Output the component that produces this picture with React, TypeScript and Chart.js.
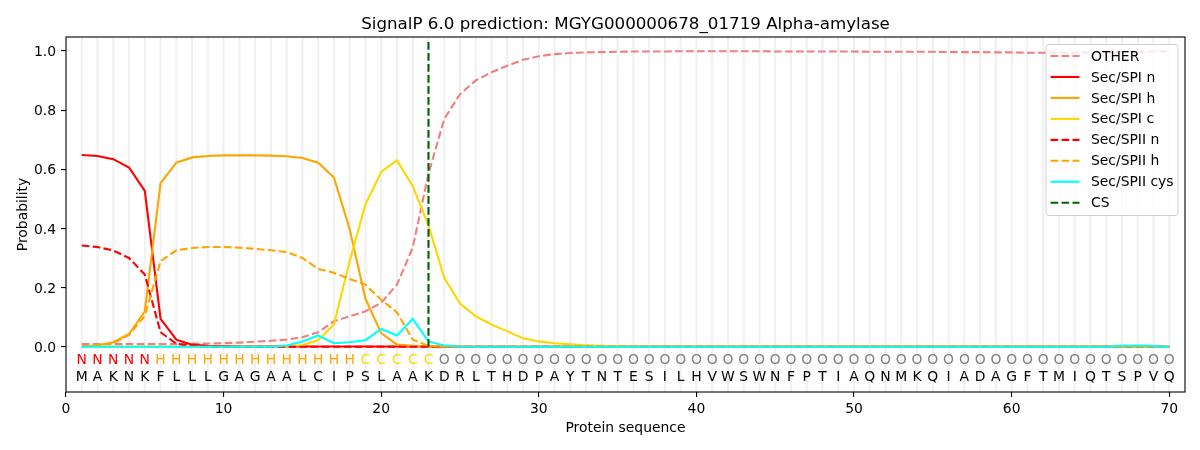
import React, { useEffect, useRef } from "react";
import { Chart, registerables } from "chart.js";

Chart.register(...registerables);

const TITLE = "SignalP 6.0 prediction: MGYG000000678_01719 Alpha-amylase";
const X_TITLE = "Protein sequence";
const Y_TITLE = "Probability";

const SEQUENCE = "MAKNKFLLLGAGAALCIPSLAAKDRLTHDPAYTNTESILHVWSWNFPTIAQNMKQIADAGFTMIQTSPVQ".split("");
const REGIONS = (
  "NNNNN" +
  "HHHHHHHHHHHHH" +
  "CCCCC" +
  "OOOOOOOOOOOOOOOOOOOOOOOOOOOOOOOOOOOOOOOOOOOOOOO"
).split("");

const OTHER = [
  0.009, 0.009, 0.009, 0.009, 0.009, 0.009, 0.009, 0.010, 0.011, 0.012,
  0.014, 0.017, 0.020, 0.024, 0.032, 0.049, 0.086, 0.103, 0.120, 0.148,
  0.210, 0.335, 0.585, 0.770, 0.854, 0.900, 0.928, 0.950, 0.970, 0.982,
  0.989, 0.993, 0.995, 0.996, 0.997, 0.998, 0.998, 0.998, 0.999, 0.999,
  0.999, 0.999, 0.999, 0.999, 0.998, 0.998, 0.998, 0.998, 0.998, 0.998,
  0.997, 0.997, 0.997, 0.997, 0.997, 0.996, 0.996, 0.996, 0.995, 0.995,
  0.994, 0.994, 0.994, 0.994, 0.995, 0.995, 0.996, 0.997, 0.998, 0.999,
];
const SPI_N = [
  0.648, 0.645, 0.634, 0.606, 0.527, 0.094, 0.024, 0.007, 0.003, 0.002,
  0.001, 0.001, 0.001, 0.001, 0.001, 0.001, 0.001, 0.001, 0.001, 0.001,
  0.001, 0.001, 0.001, 0, 0, 0, 0, 0, 0, 0,
  0, 0, 0, 0, 0, 0, 0, 0, 0, 0,
  0, 0, 0, 0, 0, 0, 0, 0, 0, 0,
  0, 0, 0, 0, 0, 0, 0, 0, 0, 0,
  0, 0, 0, 0, 0, 0, 0, 0, 0, 0,
];
const SPI_H = [
  0.001, 0.005, 0.015, 0.043, 0.120, 0.553, 0.622, 0.640, 0.645, 0.647,
  0.647, 0.647, 0.646, 0.644, 0.638, 0.622, 0.572, 0.397, 0.162, 0.046,
  0.007, 0.003, 0.001, 0, 0, 0, 0, 0, 0, 0,
  0, 0, 0, 0, 0, 0, 0, 0, 0, 0,
  0, 0, 0, 0, 0, 0, 0, 0, 0, 0,
  0, 0, 0, 0, 0, 0, 0, 0, 0, 0,
  0, 0, 0, 0, 0, 0, 0, 0, 0, 0,
];
const SPI_C = [
  0, 0, 0, 0, 0, 0, 0, 0, 0, 0,
  0, 0, 0, 0.001, 0.006, 0.022, 0.075, 0.290, 0.481, 0.591,
  0.630, 0.543, 0.410, 0.233, 0.146, 0.103, 0.075, 0.052, 0.029, 0.018,
  0.012, 0.008, 0.005, 0.003, 0.002, 0.001, 0.001, 0, 0, 0,
  0, 0, 0, 0, 0, 0, 0, 0, 0, 0,
  0, 0, 0, 0, 0, 0, 0, 0, 0, 0,
  0, 0, 0, 0, 0, 0, 0, 0, 0, 0,
];
const SPII_N = [
  0.342, 0.337, 0.325, 0.300, 0.244, 0.049, 0.010, 0.003, 0.001, 0,
  0, 0, 0, 0, 0, 0, 0, 0, 0, 0,
  0, 0, 0, 0, 0, 0, 0, 0, 0, 0,
  0, 0, 0, 0, 0, 0, 0, 0, 0, 0,
  0, 0, 0, 0, 0, 0, 0, 0, 0, 0,
  0, 0, 0, 0, 0, 0, 0, 0, 0, 0,
  0, 0, 0, 0, 0, 0, 0, 0, 0, 0,
];
const SPII_H = [
  0.001, 0.005, 0.012, 0.040, 0.105, 0.289, 0.326, 0.334, 0.337, 0.337,
  0.335, 0.331, 0.326, 0.320, 0.300, 0.263, 0.250, 0.229, 0.210, 0.159,
  0.116, 0.024, 0.003, 0, 0, 0, 0, 0, 0, 0,
  0, 0, 0, 0, 0, 0, 0, 0, 0, 0,
  0, 0, 0, 0, 0, 0, 0, 0, 0, 0,
  0, 0, 0, 0, 0, 0, 0, 0, 0, 0,
  0, 0, 0, 0, 0, 0, 0, 0, 0, 0,
];
const SPII_CYS = [
  0, 0, 0, 0, 0, 0, 0, 0, 0, 0,
  0, 0, 0, 0.004, 0.018, 0.038, 0.012, 0.015, 0.022, 0.060,
  0.038, 0.094, 0.018, 0.004, 0.001, 0, 0, 0, 0, 0,
  0, 0, 0, 0, 0, 0, 0, 0, 0, 0,
  0, 0, 0, 0, 0, 0, 0, 0, 0, 0,
  0, 0, 0, 0, 0, 0, 0, 0, 0, 0,
  0, 0, 0, 0, 0, 0, 0.003, 0.004, 0.002, 0,
];
const CS_POSITION = 23;
const CS_RANGE = [0, 1.035];

const X_TICK_VALUES = [0, 10, 20, 30, 40, 50, 60, 70];
const Y_TICK_VALUES = [0, 0.2, 0.4, 0.6, 0.8, 1.0];

const REGION_COLORS: Record<string, string> = {
  N: "#ff0000",
  H: "#ffa500",
  C: "#ffd700",
  O: "#808080",
};

const FONT = "'DejaVu Sans', sans-serif";
const DASH = [7.7, 3.3];

function toPoints(vals: number[]) {
  return vals.map((v, i) => ({ x: i + 1, y: v }));
}

const SERIES = [
  { label: "OTHER", data: OTHER, color: "#f08080", dash: DASH },
  { label: "Sec/SPI n", data: SPI_N, color: "#ff0000", dash: [] as number[] },
  { label: "Sec/SPI h", data: SPI_H, color: "#ffa500", dash: [] as number[] },
  { label: "Sec/SPI c", data: SPI_C, color: "#ffd700", dash: [] as number[] },
  { label: "Sec/SPII n", data: SPII_N, color: "#ff0000", dash: DASH },
  { label: "Sec/SPII h", data: SPII_H, color: "#ffa500", dash: DASH },
  { label: "Sec/SPII cys", data: SPII_CYS, color: "#00ffff", dash: [] as number[] },
];

const overlayPlugin = {
  id: "overlay",
  beforeDatasetsDraw(chart: any) {
    const { ctx, chartArea: a, scales } = chart;
    const x = scales.x;
    ctx.save();
    ctx.strokeStyle = "#f0f0f0";
    ctx.lineWidth = 2;
    for (let i = 1; i <= SEQUENCE.length; i++) {
      const px = x.getPixelForValue(i);
      ctx.beginPath();
      ctx.moveTo(px, a.top);
      ctx.lineTo(px, a.bottom);
      ctx.stroke();
    }
    ctx.restore();
  },
  afterDatasetsDraw(chart: any) {
    const { ctx, chartArea: a, scales } = chart;
    const x = scales.x;
    const y = scales.y;
    ctx.save();
    // sequence letters
    ctx.font = `13.9px ${FONT}`;
    ctx.textAlign = "center";
    ctx.textBaseline = "middle";
    const yReg = y.getPixelForValue(-0.047);
    const ySeq = y.getPixelForValue(-0.102);
    for (let i = 0; i < SEQUENCE.length; i++) {
      const px = x.getPixelForValue(i + 1);
      ctx.fillStyle = REGION_COLORS[REGIONS[i]];
      ctx.fillText(REGIONS[i], px, yReg);
      ctx.fillStyle = "#000";
      ctx.fillText(SEQUENCE[i], px, ySeq);
    }
    // frame
    ctx.strokeStyle = "#000";
    ctx.lineWidth = 1.1;
    ctx.strokeRect(a.left, a.top, a.right - a.left, a.bottom - a.top);

    // legend
    const bw = 132, bh = 171;
    const bx = a.right - 7 - bw;
    const by = a.top + 7.5;
    ctx.fillStyle = "rgba(255,255,255,0.8)";
    ctx.strokeStyle = "#d0d0d0";
    ctx.lineWidth = 1;
    const r = 3;
    ctx.beginPath();
    ctx.moveTo(bx + r, by);
    ctx.lineTo(bx + bw - r, by);
    ctx.quadraticCurveTo(bx + bw, by, bx + bw, by + r);
    ctx.lineTo(bx + bw, by + bh - r);
    ctx.quadraticCurveTo(bx + bw, by + bh, bx + bw - r, by + bh);
    ctx.lineTo(bx + r, by + bh);
    ctx.quadraticCurveTo(bx, by + bh, bx, by + bh - r);
    ctx.lineTo(bx, by + r);
    ctx.quadraticCurveTo(bx, by, bx + r, by);
    ctx.closePath();
    ctx.fill();
    ctx.stroke();
    const entries = chart.data.datasets;
    ctx.font = `13.9px ${FONT}`;
    ctx.textAlign = "left";
    ctx.textBaseline = "middle";
    entries.forEach((ds: any, i: number) => {
      const ey = by + 11.5 + i * 20.96;
      ctx.strokeStyle = ds.borderColor;
      ctx.lineWidth = 2.1;
      ctx.setLineDash(ds.borderDash || []);
      ctx.beginPath();
      ctx.moveTo(bx + 4.5, ey);
      ctx.lineTo(bx + 33.5, ey);
      ctx.stroke();
      ctx.setLineDash([]);
      ctx.fillStyle = "#000";
      ctx.fillText(ds.label, bx + 45, ey + 1);
    });

    // titles
    ctx.fillStyle = "#000";
    ctx.textAlign = "center";
    ctx.textBaseline = "alphabetic";
    ctx.font = `16.7px ${FONT}`;
    ctx.fillText(TITLE, (a.left + a.right) / 2, 29);
    ctx.font = `13.9px ${FONT}`;
    ctx.fillText(X_TITLE, (a.left + a.right) / 2, 432);
    ctx.translate(27, (a.top + a.bottom) / 2);
    ctx.rotate(-Math.PI / 2);
    ctx.fillText(Y_TITLE, 0, 0);
    ctx.restore();
  },
};

export default function App() {
  const ref = useRef<HTMLCanvasElement | null>(null);
  useEffect(() => {
    const canvas = ref.current;
    if (!canvas) return;
    const datasets: any[] = SERIES.map((s, i) => ({
      label: s.label,
      data: toPoints(s.data),
      borderColor: s.color,
      backgroundColor: s.color,
      borderDash: s.dash,
      borderWidth: 2.1,
      pointRadius: 0,
      tension: 0,
      fill: false,
      order: 100 - i,
    }));
    datasets.push({
      label: "CS",
      data: [
        { x: CS_POSITION, y: CS_RANGE[0] },
        { x: CS_POSITION, y: CS_RANGE[1] },
      ],
      borderColor: "#006400",
      backgroundColor: "#006400",
      borderDash: DASH,
      borderWidth: 2.1,
      pointRadius: 0,
      fill: false,
      order: 0,
    });
    const chart = new Chart(canvas, {
      type: "line",
      data: { datasets },
      options: {
        animation: false,
        responsive: false,
        devicePixelRatio: 1,
        layout: { padding: { top: 37, right: 15, left: 0, bottom: 0 } },
        plugins: {
          legend: { display: false },
          title: { display: false },
          tooltip: { enabled: false },
        },
        scales: {
          x: {
            type: "linear",
            min: 0,
            max: 71,
            bounds: "data",
            border: { display: false },
            grid: {
              drawOnChartArea: false,
              drawTicks: true,
              tickLength: 5,
              tickColor: "#000",
              lineWidth: 1.1,
            },
            ticks: {
              padding: 4,
              color: "#000",
              font: { family: FONT, size: 13.9 },
              maxRotation: 0,
              autoSkip: false,
              callback: (v: any) => String(v),
            },
            afterBuildTicks: (scale: any) => {
              scale.ticks = X_TICK_VALUES.map((v) => ({ value: v }));
            },
            afterFit: (scale: any) => {
              scale.height = 58;
            },
          },
          y: {
            type: "linear",
            min: -0.153,
            max: 1.047,
            bounds: "data",
            border: { display: false },
            grid: {
              drawOnChartArea: false,
              drawTicks: true,
              tickLength: 5,
              tickColor: "#000",
              lineWidth: 1.1,
            },
            ticks: {
              padding: 5,
              labelOffset: 1.5,
              color: "#000",
              autoSkip: false,
              font: { family: FONT, size: 13.9 },
              callback: (v: any) => Number(v).toFixed(1),
            },
            afterBuildTicks: (scale: any) => {
              scale.ticks = Y_TICK_VALUES.map((v) => ({ value: v }));
            },
            afterFit: (scale: any) => {
              scale.width = 66;
            },
          },
        },
      },
      plugins: [overlayPlugin],
    });
    return () => chart.destroy();
  }, []);
  return (
    <div style={{ position: "absolute", left: 0, top: 0, width: 1200, height: 450, background: "#fff" }}>
      <canvas ref={ref} width={1200} height={450} style={{ width: 1200, height: 450, display: "block" }} />
    </div>
  );
}
